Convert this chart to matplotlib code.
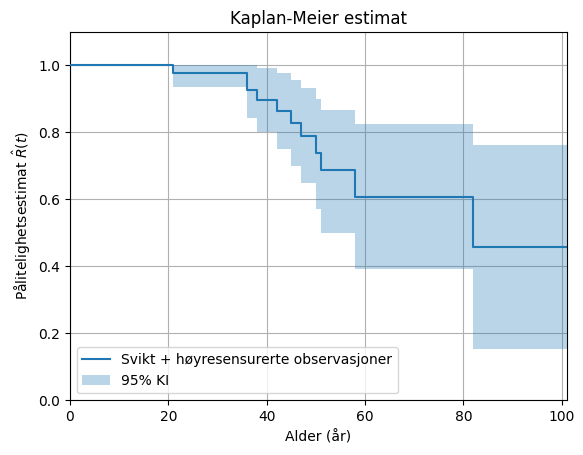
import matplotlib
matplotlib.use("Agg")
import matplotlib.pyplot as plt
import numpy as np

times = [0, 21, 36, 38, 42, 45, 47, 50, 51, 58, 82, 101]
surv = [1.0, 0.976, 0.926, 0.896, 0.864, 0.829, 0.789, 0.737, 0.687, 0.608, 0.457, 0.457]
ci_low = [1.0, 0.934, 0.844, 0.801, 0.751, 0.700, 0.650, 0.572, 0.500, 0.393, 0.153, 0.153]
ci_up = [1.0, 1.0, 1.0, 0.991, 0.976, 0.956, 0.932, 0.901, 0.867, 0.825, 0.762, 0.762]

fig, ax = plt.subplots(figsize=(5.83, 4.55), dpi=100)
ax.step(times, surv, where="post", color="C0", label="Svikt + høyresensurerte observasjoner", zorder=3)
ax.fill_between(times, ci_low, ci_up, step="post", alpha=0.3, color="C0", lw=0, label="95% KI")
ax.set_xlim(0, 101)
ax.set_ylim(0, 1.1)
ax.set_yticks(np.arange(0, 1.01, 0.2))
ax.grid(True)
ax.set_axisbelow(True)
ax.set_title("Kaplan-Meier estimat")
ax.set_xlabel("Alder (år)")
ax.set_ylabel(r"Pålitelighetsestimat $\hat{R}(t)$")
ax.legend(loc="lower left")
fig.subplots_adjust(left=0.12, right=0.972, top=0.93, bottom=0.12)
fig.savefig("out.png")
